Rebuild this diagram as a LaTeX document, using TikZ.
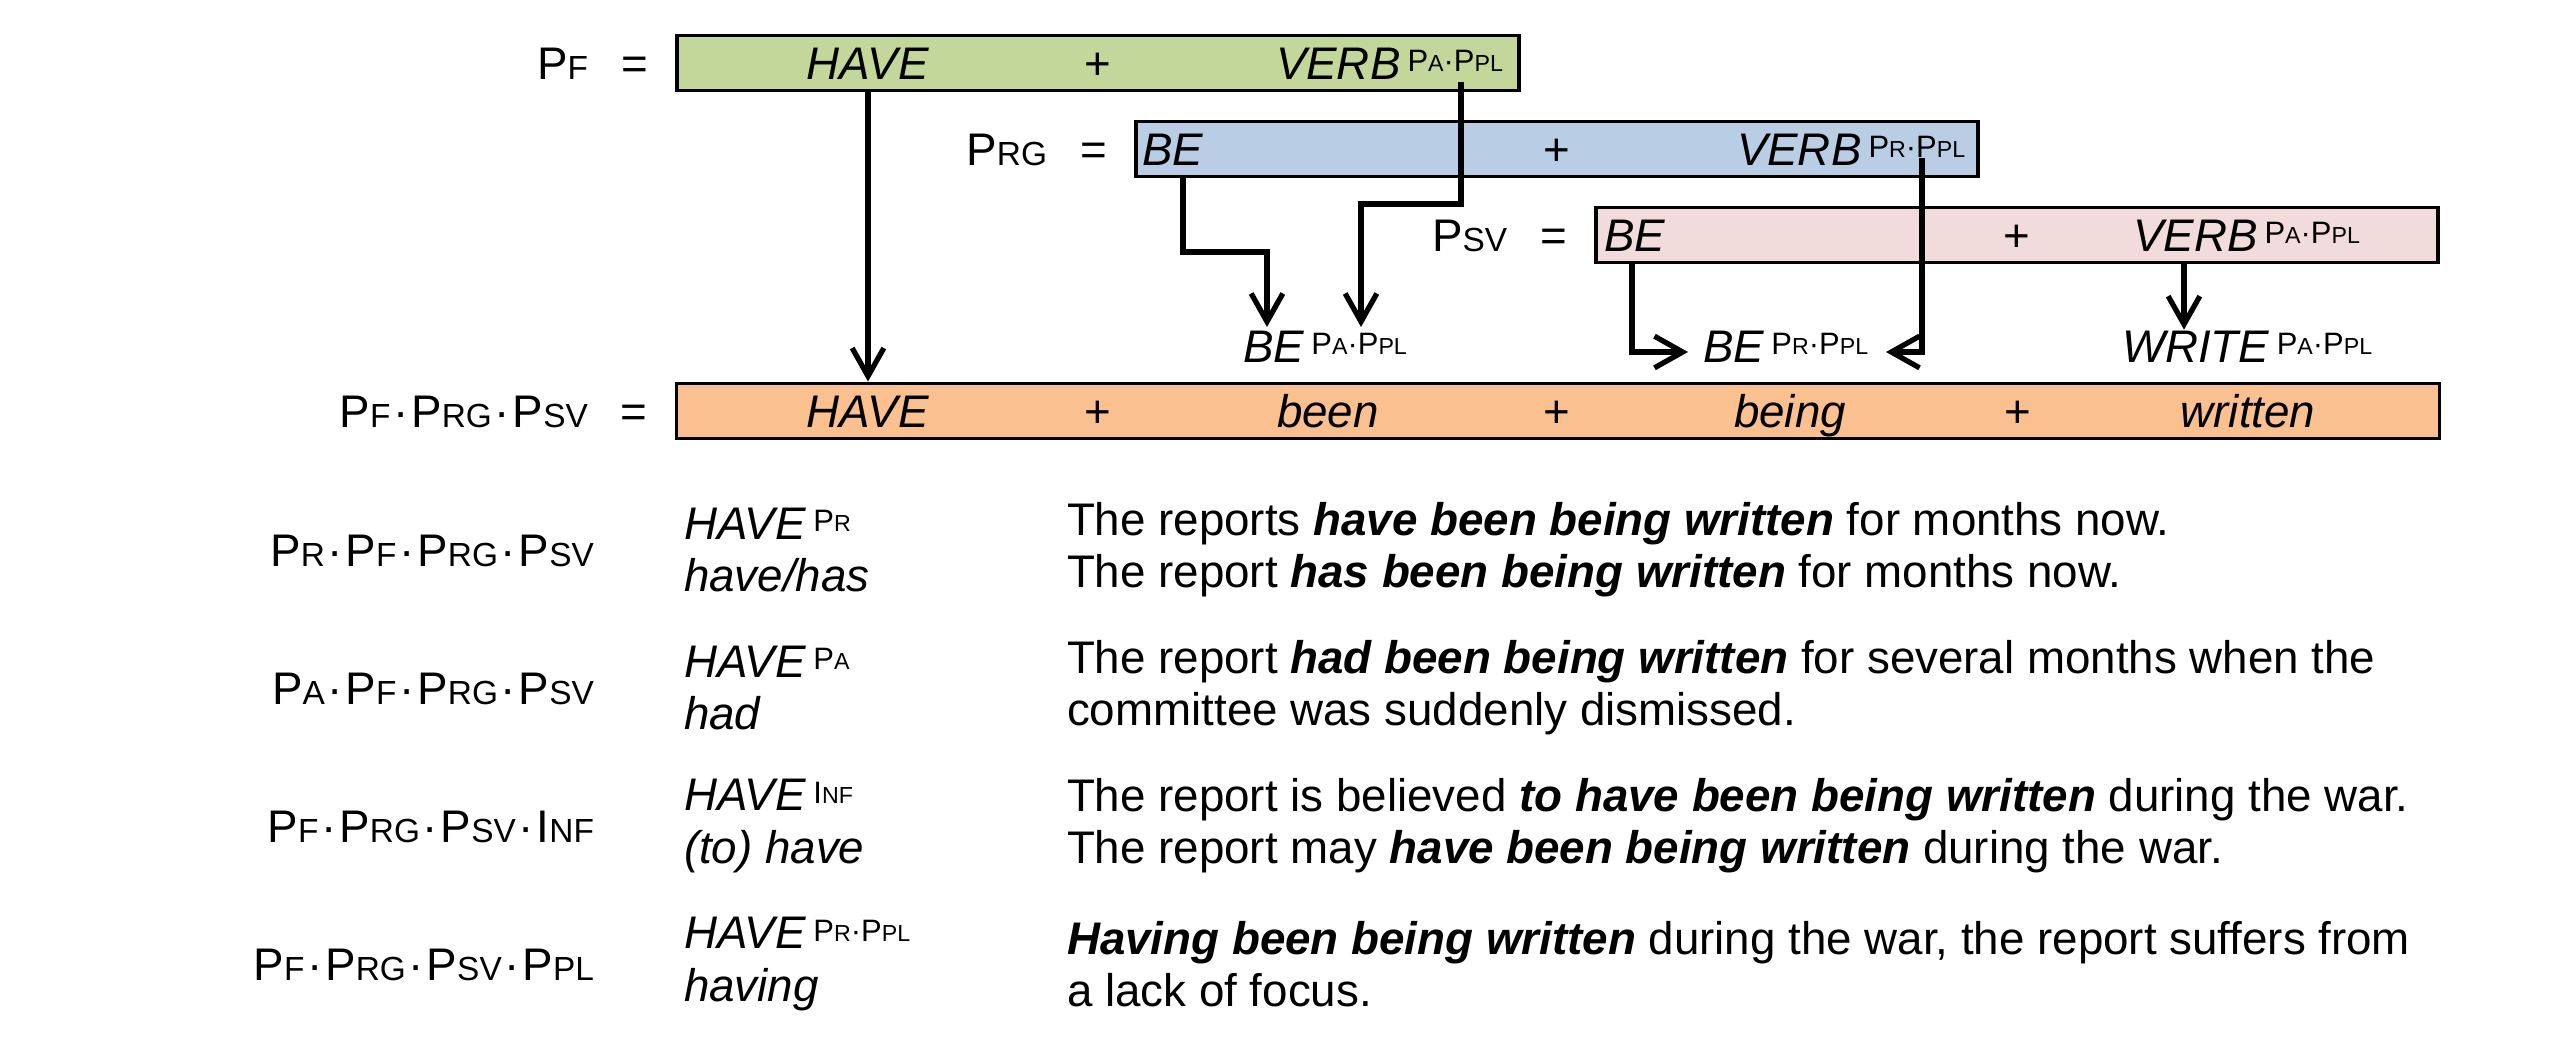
\documentclass[tikz,border=0pt]{standalone}
\usepackage{fontspec}
\setmainfont{Liberation Sans}
\usetikzlibrary{arrows.meta,positioning}
\tikzset{
	box/.style={draw, line width=1.1pt, minimum width=8.42cm, minimum height=0.55cm, inner sep=0},
	txt/.style={inner sep=0, outer sep=0, text height=9.3pt, text depth=0pt, font=\fontsize{13}{14.8}\selectfont},
	para/.style={inner sep=0, outer sep=0, anchor=west, align=left, font=\fontsize{13}{14.8}\selectfont},
	arr/.style={-{Straight Barb[length=8pt,width=9pt]}, line width=1.5pt},
}
\definecolor{pfColor}{HTML}{C4D79B}
\definecolor{prgColor}{HTML}{B9CDE5}
\definecolor{psvColor}{HTML}{F2DCDB}
\definecolor{allColor}{HTML}{FAC090}
\newcommand{\smc}[1]{{\fontsize{9.5}{9.5}\selectfont #1}}
\newcommand{\ssmc}[1]{{\fontsize{6.6}{6.6}\selectfont #1}}
\newcommand{\tagup}[1]{\hspace{2pt}\raisebox{2.2pt}{\fontsize{8.8}{8.8}\selectfont #1}}
\newcommand{\dt}{\hspace{0.8pt}·\hspace{0.8pt}}
\newcommand{\bi}[1]{\textbf{\textit{#1}}}

\begin{document}
\begin{tikzpicture}[x=0.01cm, y=-0.01cm]
	\useasboundingbox (0,0) rectangle (2550,1044);
	% the four bars
	\node[box, fill=pfColor] (pf) at (1098,63) {};
	\node[box, fill=prgColor] (prg) at (1557,149) {};
	\node[box, fill=psvColor] (psv) at (2017,235) {};
	\node[box, fill=allColor, minimum width=17.62cm] (all) at (1558,411) {};
	% bar contents
	\node[txt] (pfhave) at (868,63) {\textit{HAVE}};
	\node[txt] (pfplus) at (pf) {+};
	\node[txt, anchor=west] (pfverb) at (1276,63) {\textit{VERB}\tagup{P\ssmc{A}·P\ssmc{PL}}};
	\node[txt, anchor=west] (prgbe) at (1142,149) {\textit{BE}};
	\node[txt] (prgplus) at (prg) {+};
	\node[txt, anchor=west] (prgverb) at (1737,149) {\textit{VERB}\tagup{P\ssmc{R}·P\ssmc{PL}}};
	\node[txt, anchor=west] (psvbe) at (1604,235) {\textit{BE}};
	\node[txt] (psvplus) at (psv) {+};
	\node[txt, anchor=west] (psvverb) at (2133,235) {\textit{VERB}\tagup{P\ssmc{A}·P\ssmc{PL}}};
	\node[txt] (allhave) at (868,411) {\textit{HAVE}};
	\node[txt] (allplusA) at (1098,411) {+};
	\node[txt] (allbeen) at (1328,411) {\textit{been}};
	\node[txt] (allplusB) at (1557,411) {+};
	\node[txt] (allbeing) at (1790,411) {\textit{being}};
	\node[txt] (allplusC) at (2018,411) {+};
	\node[txt] (allwritten) at (2248,411) {\textit{written}};
	% labels
	\node[txt, left=0.27cm of pf] (pfeq) {=};
	\node[txt, left=0.33cm of pfeq] (pflab) {P\smc{F}};
	\node[txt, left=0.27cm of prg] (prgeq) {=};
	\node[txt, left=0.33cm of prgeq] (prglab) {P\smc{RG}};
	\node[txt, left=0.27cm of psv] (psveq) {=};
	\node[txt, left=0.33cm of psveq] (psvlab) {P\smc{SV}};
	\node[txt, left=0.27cm of all] (alleq) {=};
	\node[txt, left=0.33cm of alleq] (alllab) {P\smc{F}\dt P\smc{RG}\dt P\smc{SV}};
	% intermediate forms
	\node[txt, anchor=west] (bepa) at (1243,346) {\textit{BE}\tagup{P\ssmc{A}·P\ssmc{PL}}};
	\node[txt, anchor=west] (bepr) at (1703,346) {\textit{BE}\tagup{P\ssmc{R}·P\ssmc{PL}}};
	\node[txt, anchor=west] (write) at (2122,346) {\textit{WRITE}\tagup{P\ssmc{A}·P\ssmc{PL}}};
	% connectors
	\coordinate (pfvtop) at (1461,82);
	\coordinate (prgbebot) at (1183,177);
	\coordinate (prgvtop) at (1922,158);
	\coordinate (psvbebot) at (1632,263);
	\coordinate (bepatipA) at (1267,327);
	\coordinate (bepatipB) at (1361,327);
	\coordinate (beprtipA) at (1688,352);
	\coordinate (beprtipB) at (1886,352);
	\draw[arr] (pfhave |- pf.south) -- (pfhave |- all.north);
	\draw[arr] (pfvtop) -- ++(0,122) -| (bepatipB);
	\draw[arr] (prgbebot) -- ++(0,75) -| (bepatipA);
	\draw[arr] (prgvtop) |- (beprtipB);
	\draw[arr] (psvbebot) |- (beprtipA);
	\draw[arr] (2184,0 |- psv.south) -- (2184,0 |- write.north);
	% examples
	\node[txt, anchor=east] (rowAlab) at (594,550) {P\smc{R}\dt P\smc{F}\dt P\smc{RG}\dt P\smc{SV}};
	\node[para] (rowAform) at (684,550) {\textit{HAVE}\tagup{P\ssmc{R}}\\\textit{have/has}};
	\node[para] (rowAex) at (1067,550) {The reports \bi{have been being written} for months now.\\The report \bi{has been being written} for months now.};
	\node[txt, anchor=east] (rowBlab) at (594,688) {P\smc{A}\dt P\smc{F}\dt P\smc{RG}\dt P\smc{SV}};
	\node[para] (rowBform) at (684,688) {\textit{HAVE}\tagup{P\ssmc{A}}\\\textit{had}};
	\node[para] (rowBex) at (1067,688) {The report \bi{had been being written} for several months when the\\committee was suddenly dismissed.};
	\node[txt, anchor=east] (rowClab) at (594,826) {P\smc{F}\dt P\smc{RG}\dt P\smc{SV}\dt I\smc{NF}};
	\node[para] (rowCform) at (684,826) {\textit{HAVE}\tagup{I\ssmc{NF}}\\\textit{(to) have}};
	\node[para] (rowCex) at (1067,826) {The report is believed \bi{to have been being written} during the war.\\The report may \bi{have been being written} during the war.};
	\node[txt, anchor=east] (rowDlab) at (594,964) {P\smc{F}\dt P\smc{RG}\dt P\smc{SV}\dt P\smc{PL}};
	\node[para] (rowDform) at (684,964) {\textit{HAVE}\tagup{P\ssmc{R}·P\ssmc{PL}}\\\textit{having}};
	\node[para] (rowDex) at (1067,964) {\bi{Having been being written} during the war, the report suffers from\\a lack of focus.};
\end{tikzpicture}
\end{document}
